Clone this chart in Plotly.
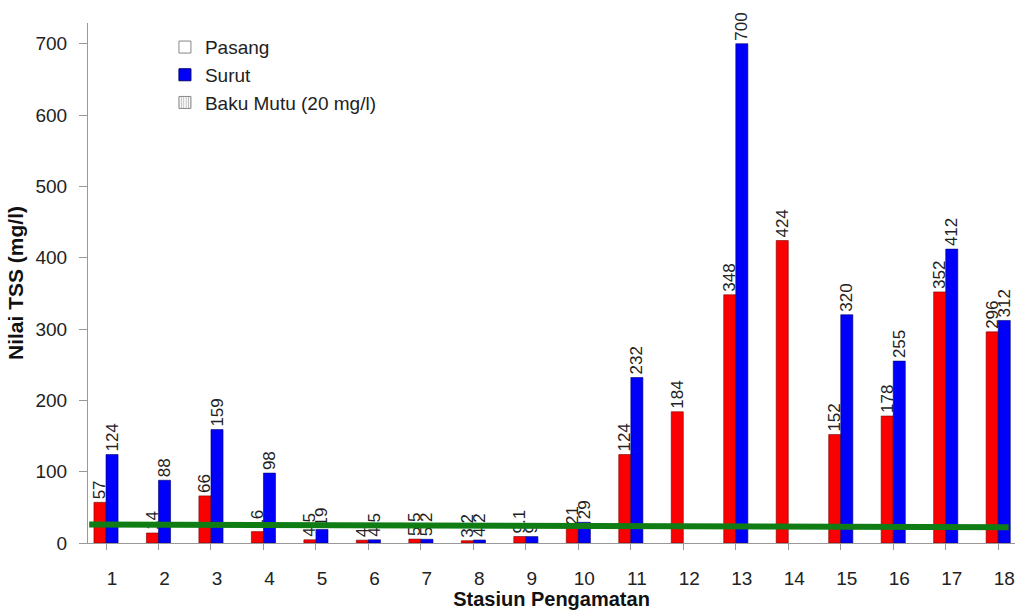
import plotly.graph_objects as go

stations = [str(i) for i in range(1, 19)]
pasang = [57, 14, 66, 16, 4.5, 4, 5.5, 3.2, 9.1, 21, 124, 184, 348, 424, 152, 178, 352, 296]
surut = [124, 88, 159, 98, 19, 4.5, 5.2, 4.2, 9, 29, 232, None, 700, None, 320, 255, 412, 312]
baku_x = [0.68, 18.2]
baku_y = [26, 22]
y_ticks = [0, 100, 200, 300, 400, 500, 600, 700]

FONT = "Liberation Sans, Arial, sans-serif"
xnum = list(range(1, 19))

def fmt(v):
    if v is None:
        return ""
    return f"{v:g}"

fig = go.Figure()
fig.add_trace(go.Bar(
    x=xnum, y=pasang, width=0.23, offset=-0.23, name="Pasang", showlegend=False,
    marker=dict(color="rgb(250,0,0)", line=dict(color="rgb(120,0,0)", width=0.6)),
    text=[fmt(v) for v in pasang], textposition="outside", textangle=-90,
    constraintext="none",
    textfont=dict(family=FONT, size=17, color="#222"), cliponaxis=False,
))
fig.add_trace(go.Bar(
    x=xnum, y=surut, width=0.23, offset=0, name="Surut", showlegend=False,
    marker=dict(color="rgb(0,0,250)", line=dict(color="rgb(0,0,110)", width=0.6)),
    text=[fmt(v) for v in surut], textposition="outside", textangle=-90,
    constraintext="none",
    textfont=dict(family=FONT, size=17, color="#222"), cliponaxis=False,
))
fig.add_trace(go.Scatter(
    x=baku_x, y=baku_y, mode="lines", showlegend=False,
    line=dict(color="rgb(15,125,20)", width=6),
))
# legend entries
fig.add_trace(go.Bar(x=[None], y=[None], name="Pasang",
                     marker=dict(color="white", line=dict(color="#888", width=1))))
fig.add_trace(go.Bar(x=[None], y=[None], name="Surut",
                     marker=dict(color="rgb(0,0,250)", line=dict(color="rgb(0,0,110)", width=1))))
fig.add_trace(go.Bar(x=[None], y=[None], name="Baku Mutu (20 mg/l)",
                     marker=dict(color="white", line=dict(color="#888", width=1),
                                 pattern=dict(shape="|", fgcolor="#777", size=3, solidity=0.4))))

fig.update_layout(
    width=1019, height=610,
    barmode="overlay",
    uniformtext=dict(minsize=15, mode="show"),
    paper_bgcolor="white", plot_bgcolor="white",
    margin=dict(l=88, r=4, t=23, b=67, autoexpand=False),
    font=dict(family=FONT, size=18, color="#222"),
    legend=dict(x=0.083, y=0.99, xanchor="left", yanchor="top",
                bgcolor="rgba(0,0,0,0)", font=dict(size=19, color="#222"),
                itemwidth=30),
    xaxis=dict(
        range=[0.657, 18.32], tickmode="array", tickvals=xnum, ticktext=stations,
        showline=True, linecolor="#999", linewidth=1, showgrid=False, zeroline=False,
        ticks="outside", ticklen=6, tickcolor="#999", tickson="boundaries",
        ticklabelshift=6, ticklabelstandoff=12, automargin=False,
        tickfont=dict(size=19, color="#222"),
        title=dict(text="<b>Stasiun Pengamatan</b>", font=dict(size=20, color="#111"), standoff=3),
    ),
    yaxis=dict(
        range=[0, 729], tickmode="array", tickvals=y_ticks,
        showline=True, linecolor="#999", linewidth=1, showgrid=False, zeroline=False,
        ticks="outside", ticklen=8, tickcolor="#999",
        ticklabelstandoff=8, automargin=False,
        tickfont=dict(size=19, color="#222"),
        title=dict(text="<b>Nilai TSS (mg/l)</b>", font=dict(size=21, color="#111"), standoff=6),
    ),
)

fig.write_html("out.html", config={"displayModeBar": False},
               post_script="document.body.style.margin='0';document.body.style.overflow='hidden';")
